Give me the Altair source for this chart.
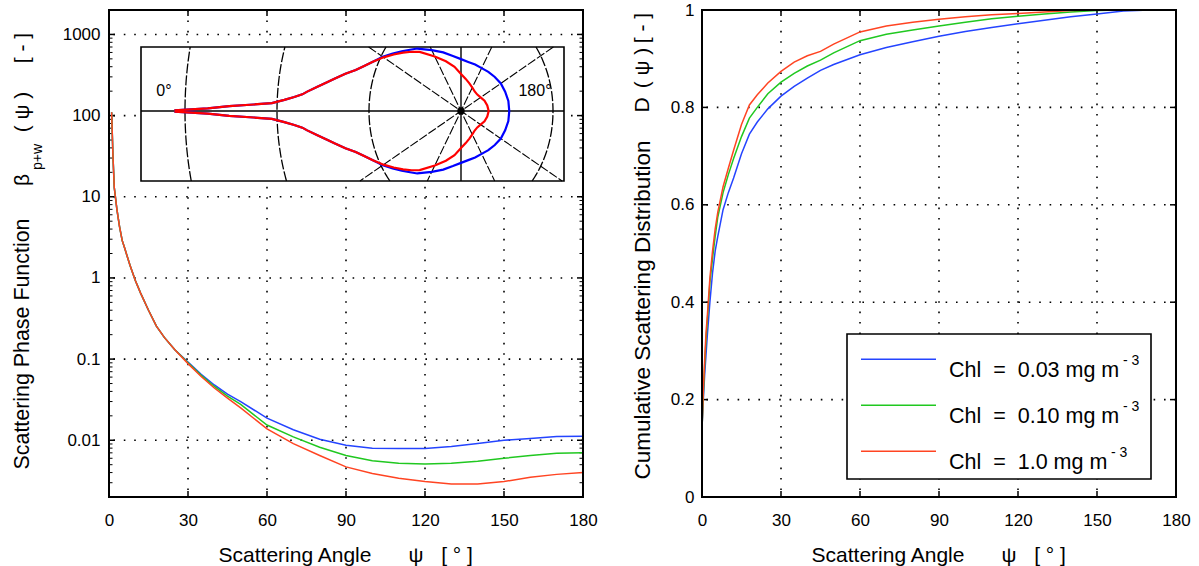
import numpy as np
import pandas as pd
import altair as alt

# ------------------------------------------------------------------ data
# scattering angle grid, degrees
ANGLE = [0.1, 0.5, 1, 1.5, 2, 3, 4, 5, 6, 8, 10, 12, 15, 18, 21, 25, 30, 35, 40, 45, 50,
         60, 70, 80, 90, 100, 110, 120, 130, 140, 150, 160, 170, 180]

# chlorophyll concentrations (mg m^-3)
CHL = ["0.03", "0.10", "1.0"]

# particle + water phase function beta_{p+w}(psi)
BETA_003 = [1700, 320, 110, 32, 13, 7.0, 4.3, 2.9, 2.3, 1.42, 0.93, 0.65, 0.40, 0.255, 0.185, 0.13,
            0.092, 0.065, 0.048, 0.037, 0.030, 0.0187, 0.0135, 0.0103, 0.0087, 0.0080, 0.0079,
            0.0079, 0.0084, 0.0091, 0.0100, 0.0105, 0.0111, 0.0112]
BETA_010 = [1700, 320, 110, 32, 13, 7.0, 4.3, 2.9, 2.3, 1.42, 0.93, 0.65, 0.40, 0.255, 0.185, 0.13,
            0.090, 0.063, 0.046, 0.035, 0.0276, 0.0154, 0.0110, 0.0082, 0.0065, 0.0056, 0.0052,
            0.0051, 0.0052, 0.0055, 0.0060, 0.0065, 0.0069, 0.0070]
BETA_100 = [1700, 320, 110, 32, 13, 7.0, 4.3, 2.9, 2.3, 1.42, 0.93, 0.65, 0.40, 0.255, 0.185, 0.13,
            0.088, 0.061, 0.044, 0.033, 0.025, 0.0138, 0.0091, 0.0065, 0.0047, 0.0039, 0.0034,
            0.0031, 0.0029, 0.0029, 0.0031, 0.0035, 0.0038, 0.0040]

# cumulative scattering distribution D(psi)
D_003 = [0.154, 0.20, 0.25, 0.29, 0.33, 0.40, 0.46, 0.505, 0.535, 0.59, 0.625, 0.655, 0.705,
         0.745, 0.77, 0.797, 0.823, 0.843, 0.86, 0.876, 0.888, 0.908, 0.923, 0.935, 0.946,
         0.956, 0.964, 0.972, 0.979, 0.986, 0.992, 0.998, 1.0, 1.0]
D_010 = [0.154, 0.21, 0.27, 0.32, 0.36, 0.44, 0.49, 0.535, 0.575, 0.625, 0.662, 0.695, 0.74,
         0.778, 0.80, 0.828, 0.852, 0.87, 0.885, 0.897, 0.912, 0.937, 0.95, 0.959, 0.967,
         0.975, 0.982, 0.987, 0.992, 0.996, 0.999, 1.0, 1.0, 1.0]
D_100 = [0.154, 0.22, 0.28, 0.335, 0.37, 0.45, 0.505, 0.55, 0.585, 0.637, 0.675, 0.712, 0.765,
         0.805, 0.826, 0.85, 0.874, 0.893, 0.906, 0.915, 0.93, 0.955, 0.967, 0.975, 0.981,
         0.986, 0.990, 0.993, 0.996, 0.999, 1.0, 1.0, 1.0, 1.0]

X_TICKS = [0, 30, 60, 90, 120, 150, 180]
BETA_TICKS = [0.01, 0.1, 1, 10, 100, 1000]
D_TICKS = [0, 0.2, 0.4, 0.6, 0.8, 1]

# the phase-function panel draws the curves from 1 degree onwards
BETA_PANEL_START = 1

# polar inset: rings of log10(beta) + 3 and spoke angles
RING_R = [2, 4, 6]
SPOKES = [30, 60, 120, 150]

# ------------------------------------------------------------------ styling
W, H = 474, 487
FONT = "Liberation Sans"
NB = "\u00a0"
LINE_COLORS = ["#2444ff", "#20c820", "#ff4422"]
INSET_COLORS = {"0.03": "#0000ff", "1.0": "#ff0000"}

angle_scale = alt.Scale(domain=[0, 180], nice=False, zero=False)
beta_scale = alt.Scale(type="log", domain=[0.002, 2000], nice=False)
d_scale = alt.Scale(domain=[0, 1], nice=False, zero=False)


def label_axis(values, padding, fmt=None):
    kw = dict(values=values, ticks=False, tickSize=0, domain=False, grid=False,
              labelFont=FONT, labelFontSize=17, labelColor="black", labelPadding=padding,
              labelFlush=False, labelOverlap=False, title=None)
    if fmt:
        kw["format"] = fmt
    return alt.Axis(**kw)


AX_ANGLE = label_axis(X_TICKS, 15)
AX_BETA = label_axis(BETA_TICKS, 9, "~g")
AX_D = label_axis(D_TICKS, 8, "~g")


def one_row():
    return pd.DataFrame({"k": [0]})


def txt(s, x, y, size=21, angle=0, align="center", baseline="middle"):
    return alt.Chart(pd.DataFrame({"t": [s]})).mark_text(
        font=FONT, fontSize=size, color="black", angle=angle, align=align, baseline=baseline
    ).encode(text="t:N", x=alt.value(x), y=alt.value(y))


def curves(yfield, values, yscale, yaxis, start=0):
    layers = []
    for i, (c, col) in enumerate(zip(CHL, LINE_COLORS)):
        df = pd.DataFrame({"angle": ANGLE, yfield: values[i]})
        df = df[df["angle"] >= start]
        layers.append(
            alt.Chart(df).mark_line(color=col, strokeWidth=1.5, clip=True).encode(
                x=alt.X("angle:Q", scale=angle_scale, axis=AX_ANGLE),
                y=alt.Y(f"{yfield}:Q", scale=yscale, axis=yaxis),
                order="angle:Q",
            )
        )
    return layers


def grid_and_ticks(xs, ys, yscale, yaxis, minor=None):
    gx = pd.DataFrame({"gx": xs})
    gy = pd.DataFrame({"gy": ys})
    X = alt.X("gx:Q", scale=angle_scale, axis=AX_ANGLE)
    Y = alt.Y("gy:Q", scale=yscale, axis=yaxis)
    dots = dict(color="black", strokeWidth=1.6, strokeDash=[1.6, 8.8])
    tk = dict(color="black", strokeWidth=1.5)
    layers = [
        alt.Chart(gx).mark_rule(**dots).encode(x=X),
        alt.Chart(gy).mark_rule(**dots).encode(y=Y),
        alt.Chart(gx).mark_rule(**tk).encode(x=X, y=alt.value(0), y2=alt.value(6)),
        alt.Chart(gx).mark_rule(**tk).encode(x=X, y=alt.value(H - 6), y2=alt.value(H)),
        alt.Chart(gy).mark_rule(**tk).encode(y=Y, x=alt.value(0), x2=alt.value(6)),
        alt.Chart(gy).mark_rule(**tk).encode(y=Y, x=alt.value(W - 6), x2=alt.value(W)),
    ]
    if minor is not None:
        gm = pd.DataFrame({"gm": minor})
        M = alt.Y("gm:Q", scale=yscale, axis=yaxis)
        layers += [
            alt.Chart(gm).mark_rule(color="black", strokeWidth=1).encode(y=M, x=alt.value(0), x2=alt.value(3.5)),
            alt.Chart(gm).mark_rule(color="black", strokeWidth=1).encode(y=M, x=alt.value(W - 3.5), x2=alt.value(W)),
        ]
    return layers


def frame():
    return alt.Chart(one_row()).mark_rect(fill="white", fillOpacity=0, stroke="black", strokeWidth=2).encode(
        x=alt.value(0), x2=alt.value(W), y=alt.value(0), y2=alt.value(H))


def x_title():
    return [
        txt("Scattering Angle", 186, 552, baseline="alphabetic"),
        txt("\u03c8", 307, 552, baseline="alphabetic"),
        txt(f"[{NB}\u00b0{NB}]", 348, 552, baseline="alphabetic"),
    ]


# ------------------------------------------------------------------ left panel
beta_minor = [k * 10.0 ** e for e in range(-3, 4) for k in range(2, 10)
              if 0.002 <= k * 10.0 ** e < 2000]

left_main = alt.layer(
    *grid_and_ticks([30, 60, 90, 120, 150], BETA_TICKS, beta_scale, AX_BETA, beta_minor),
    *curves("beta", [BETA_003, BETA_010, BETA_100], beta_scale, AX_BETA, start=BETA_PANEL_START),
    frame(),
    *x_title(),
    txt("Scattering Phase Function", -86, 334, size=21.4, angle=270),
    txt("\u03b2", -86, 170, angle=270),
    txt("p+w", -71, 147, size=14, angle=270),
    txt(f"({NB}\u03c8{NB})", -86, 102, angle=270),
    txt(f"[{NB}-{NB}]", -86, 38, angle=270),
    # page anchor: keeps the plot area at a fixed offset from the page corner
    alt.Chart(one_row()).mark_rule(color="white", strokeWidth=1).encode(
        x=alt.value(-107.5), y=alt.value(-7.5), y2=alt.value(-6.5)),
)

# polar inset, radius = log10(beta) + 3
INSET_BOX_PX = (32, 455, 37, 171)      # left, right, top, bottom inside the panel
INSET_CENTRE_PX = (352, 101)
INSET_UNIT_PX = (46.0, 55.2)
ix0 = (INSET_BOX_PX[0] - INSET_CENTRE_PX[0]) / INSET_UNIT_PX[0]
ix1 = (INSET_BOX_PX[1] - INSET_CENTRE_PX[0]) / INSET_UNIT_PX[0]
iy1 = (INSET_CENTRE_PX[1] - INSET_BOX_PX[2]) / INSET_UNIT_PX[1]
iy0 = (INSET_CENTRE_PX[1] - INSET_BOX_PX[3]) / INSET_UNIT_PX[1]
ix_scale = alt.Scale(domain=[ix0, ix1], range=[INSET_BOX_PX[0], INSET_BOX_PX[1]], nice=False, zero=False)
iy_scale = alt.Scale(domain=[iy0, iy1], range=[INSET_BOX_PX[3], INSET_BOX_PX[2]], nice=False, zero=False)


def IX(f):
    return alt.X(f, scale=ix_scale, axis=None)


def IY(f):
    return alt.Y(f, scale=iy_scale, axis=None)


def polar_curve(beta):
    psi = np.radians(np.array(ANGLE))
    r = np.log10(np.array(beta)) + 3
    xu, yu = -r * np.cos(psi), r * np.sin(psi)
    px = np.concatenate([xu, xu[::-1]])
    py = np.concatenate([yu, -yu[::-1]])
    return pd.DataFrame({"px": px, "py": py, "idx": np.arange(len(px))})


ring_rows = []
seg = 0
for R in RING_R:
    yy = np.linspace(max(iy0, -R), min(iy1, R), 60)
    for sgn in (-1, 1):
        xx = sgn * np.sqrt(R ** 2 - yy ** 2)
        if xx.min() >= ix0 and xx.max() <= ix1:
            for j, (a, b) in enumerate(zip(xx, yy)):
                ring_rows.append({"px": a, "py": b, "seg": seg, "idx": j})
            seg += 1
rings = pd.DataFrame(ring_rows)


def to_edge(dx, dy):
    ts = []
    if dx > 1e-9:
        ts.append(ix1 / dx)
    if dx < -1e-9:
        ts.append(ix0 / dx)
    if dy > 1e-9:
        ts.append(iy1 / dy)
    if dy < -1e-9:
        ts.append(iy0 / dy)
    t = min(ts)
    return dx * t, dy * t


def spoke_frame(angles):
    rows = []
    for a in angles:
        dx, dy = -np.cos(np.radians(a)), np.sin(np.radians(a))
        x1, y1 = to_edge(dx, dy)
        x2, y2 = to_edge(-dx, -dy)
        rows.append({"x1": x1, "y1": y1, "x2": x2, "y2": y2})
    return pd.DataFrame(rows)


inset = alt.layer(
    alt.Chart(pd.DataFrame({"x0": [ix0], "x1": [ix1], "y0": [iy0], "y1": [iy1]})).mark_rect(
        fill="white", stroke="black", strokeWidth=1.6
    ).encode(x=IX("x0:Q"), x2="x1:Q", y=IY("y0:Q"), y2="y1:Q"),
    alt.Chart(rings).mark_line(color="black", strokeWidth=1.3, strokeDash=[10, 2]).encode(
        x=IX("px:Q"), y=IY("py:Q"), detail="seg:N", order="idx:Q"),
    alt.Chart(spoke_frame(SPOKES)).mark_rule(color="black", strokeWidth=1.1, strokeDash=[9, 2]).encode(
        x=IX("x1:Q"), y=IY("y1:Q"), x2="x2:Q", y2="y2:Q"),
    alt.Chart(spoke_frame([0, 90])).mark_rule(color="black", strokeWidth=1.4).encode(
        x=IX("x1:Q"), y=IY("y1:Q"), x2="x2:Q", y2="y2:Q"),
    alt.Chart(polar_curve(BETA_003)).mark_line(color=INSET_COLORS["0.03"], strokeWidth=2.2).encode(
        x=IX("px:Q"), y=IY("py:Q"), order="idx:Q"),
    alt.Chart(polar_curve(BETA_100)).mark_line(color=INSET_COLORS["1.0"], strokeWidth=2.2).encode(
        x=IX("px:Q"), y=IY("py:Q"), order="idx:Q"),
    alt.Chart(pd.DataFrame({"px": [0.0], "py": [0.0]})).mark_point(
        filled=True, color="black", size=55, opacity=1).encode(x=IX("px:Q"), y=IY("py:Q")),
    txt("0\u00b0", 55, 81, size=16),
    txt("180\u00b0", 426, 81, size=16),
)

left = alt.layer(left_main, inset).resolve_scale(x="independent", y="independent").properties(
    width=W, height=H)

# ------------------------------------------------------------------ right panel
LEG_BOX_PX = (145, 449, 324, 469)
LEG_ROW_Y = [349.3, 395.3, 441.3]
LEG_SAMPLE_X = (159, 234)
LEG_TEXT_X = 247
LEG_SUP_X = [421, 421, 409]

legend_layers = [
    alt.Chart(one_row()).mark_rect(fill="white", stroke="black", strokeWidth=1.6).encode(
        x=alt.value(LEG_BOX_PX[0]), x2=alt.value(LEG_BOX_PX[1]),
        y=alt.value(LEG_BOX_PX[2]), y2=alt.value(LEG_BOX_PX[3]))
]
for c, col, yrow, xsup in zip(CHL, LINE_COLORS, LEG_ROW_Y, LEG_SUP_X):
    legend_layers.append(
        alt.Chart(one_row()).mark_rule(color=col, strokeWidth=1.5).encode(
            x=alt.value(LEG_SAMPLE_X[0]), x2=alt.value(LEG_SAMPLE_X[1]), y=alt.value(yrow)))
    legend_layers.append(
        txt(f"Chl{NB}{NB}={NB}{NB}{c} mg m", LEG_TEXT_X, yrow + 17.7, size=21.5,
            align="left", baseline="alphabetic"))
    legend_layers.append(
        txt(f"-{NB}3", xsup, yrow + 5.5, size=14, align="left", baseline="alphabetic"))

right = alt.layer(
    *grid_and_ticks([30, 60, 90, 120, 150], [0.2, 0.4, 0.6, 0.8], d_scale, AX_D),
    *curves("D", [D_003, D_010, D_100], d_scale, AX_D),
    *legend_layers,
    frame(),
    *x_title(),
    txt("Cumulative Scattering Distribution", -59, 300, size=22.5, angle=270),
    txt("D", -59, 95, size=21, angle=270),
    txt(f"({NB}\u03c8{NB})", -59, 58, size=21, angle=270),
    txt(f"[{NB}-{NB}]", -59, 18, size=21, angle=270),
).properties(width=W, height=H)

chart = (
    alt.hconcat(left, right, spacing=119, bounds="flush")
    .properties(padding=0, background="white")
    .configure_view(stroke="transparent")
)

chart.save("out.html", embed_options={"renderer": "svg", "actions": False})
